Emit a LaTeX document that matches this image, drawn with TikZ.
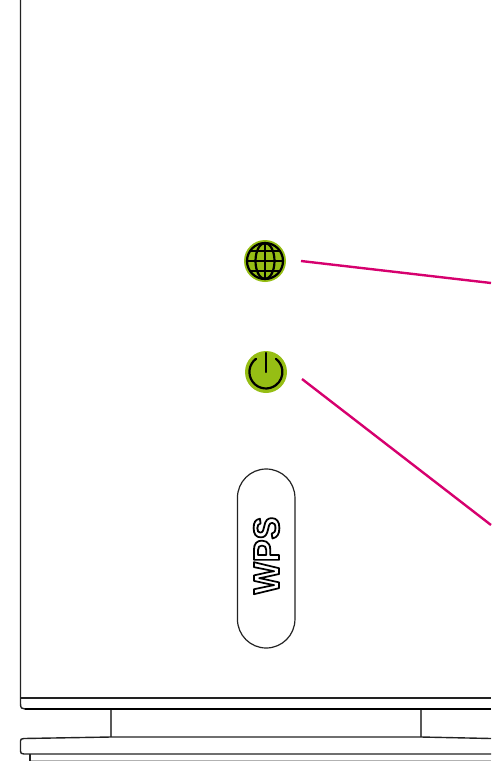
\documentclass[tikz,border=0pt]{standalone}
\usepackage{fontspec}
\usepackage{graphicx}
\usetikzlibrary{shapes.misc}
\setmainfont{Liberation Sans}
\newfontfamily\wpsfont{Liberation Sans Bold}
\newcommand{\outlinetext}[1]{\special{pdf: code q 2 Tr 1.7 w 1 J 1 j 1 1 1 rg 0 0 0 RG}#1\special{pdf: code Q}}
\definecolor{leafgreen}{HTML}{96BE14}
\definecolor{leader}{HTML}{D6006E}
\definecolor{casegray}{HTML}{222222}
\tikzset{
  caseline/.style={draw=casegray,line width=1.4pt,line join=round},
  heavyline/.style={draw=black,line width=2.2pt},
  footline/.style={draw=gray!70!black,line width=1.8pt},
  leaderline/.style={draw=leader,line width=2.4pt},
  lamp/.style={circle,fill=leafgreen,draw=none,minimum size=42pt,inner sep=0pt},
  iconline/.style={draw=black,line width=2.2pt},
}
\begin{document}
\begin{tikzpicture}[x=1pt,y=-1pt]
\useasboundingbox (0,0) rectangle (491,761);
% housing
\draw[caseline] (20.5,0) -- (20.5,704) .. controls (20.5,708) and (22,709) .. (25,709);
\draw[caseline] (20.5,698) -- (491,698);
\draw[heavyline] (25,709) -- (491,709);
\draw[footline] (111,710) -- (111,737);
\draw[footline] (421,710) -- (421,737);
% base
\draw[caseline] (491,738.5) -- (421,737) -- (111,737) -- (24,738.5) .. controls (21,738.5) and (20.5,739.5) .. (20.5,741) -- (20.5,751) .. controls (20.5,753) and (21,754) .. (24,754) -- (491,754);
\draw[caseline] (30,754) -- (30,761);
\draw[draw=gray!60,line width=1pt] (31,760.3) -- (491,760.3);
% lamps
\node[lamp] (globe) at (265,261) {};
\draw[iconline] (globe.center) circle[radius=18];
\draw[iconline] (globe.center) ellipse[x radius=9.5,y radius=18];
\draw[iconline] (265,243) -- (265,279);
\draw[iconline] (247,261) -- (283,261);
\draw[iconline] (250,251) -- (280,251);
\draw[iconline] (250,271) -- (280,271);
\node[lamp] (power) at (266,372) {};
\draw[iconline,line cap=round] (256,358.8) arc[start angle=233,end angle=-53,radius=16.5,y=-1pt];
\draw[iconline,line cap=round] (266,353) -- (266,372);
% WPS button
\node[rounded rectangle,rotate=90,draw=casegray,line width=1.2pt,minimum width=179pt,minimum height=57.5pt,inner sep=0pt] (wps) at (266.2,558.5) {};
\node[rotate=90,inner sep=0pt,font=\wpsfont\fontsize{34}{34}\selectfont] (wpslabel) at (266.5,555.5) {\scalebox{1}[1.07]{\outlinetext{WPS}}};
% leaders
\coordinate (globeend) at (301,261);
\coordinate (globeexit) at (491,283);
\coordinate (powerend) at (302,379);
\coordinate (powerexit) at (491,525);
\draw[leaderline] (globeend) -- (globeexit);
\draw[leaderline] (powerend) -- (powerexit);
\end{tikzpicture}
\end{document}
